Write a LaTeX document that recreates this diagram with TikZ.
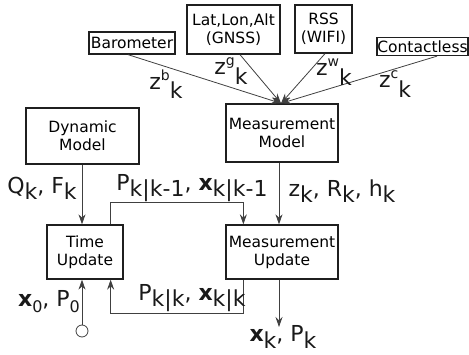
\documentclass[tikz,border=0pt]{standalone}
\usepackage{fontspec}
\setmainfont{DejaVu Sans}
\usetikzlibrary{arrows.meta}
\newcommand{\dn}[1]{\raisebox{-0.28em}{#1}}
\newcommand{\dnn}[1]{\raisebox{-0.42em}{#1}}
\newcommand{\sps}[1]{\raisebox{0.42em}{\fontsize{14}{14}\selectfont #1}}
\begin{document}
\begin{tikzpicture}[x=1pt,y=-1pt,
  box/.style={draw=black!88, line width=1.3pt, align=center, font=\fontsize{15.5}{18}\selectfont, inner sep=0pt},
  lbl/.style={font=\fontsize{22}{24}\selectfont, inner sep=0pt, text=black!90},
  conn/.style={draw=black!75, line width=0.8pt},
  arr/.style={conn, -{Stealth[length=10pt,width=7pt]}}]
\useasboundingbox (0,0) rectangle (469,355);
% sensor boxes
\node[box, minimum width=86pt, minimum height=22pt] (baro) at (132,43) {Barometer};
\node[box, minimum width=93pt, minimum height=49pt] (gnss) at (233.5,29.5) {Lat,Lon,Alt\\(GNSS)};
\node[box, minimum width=57pt, minimum height=48pt] (rss) at (323.5,29) {RSS\\(WIFI)};
\node[box, minimum width=91pt, minimum height=18pt] (cont) at (422.5,46.5) {Contactless};
% main boxes
\node[box, minimum width=112pt, minimum height=58pt] (mm) at (282,133) {Measurement\\Model};
\node[box, minimum width=113pt, minimum height=56pt] (dm) at (82.5,136) {Dynamic\\Model};
\node[box, minimum width=76pt, minimum height=54pt] (tu) at (85,252) {Time\\Update};
\node[box, minimum width=112pt, minimum height=54pt] (mu) at (282,252) {Measurement\\Update};
% sensor connectors
\coordinate (conv) at ([xshift=-1pt]mm.north);
\draw[arr] ([xshift=-4pt]baro.south) -- (conv);
\draw[arr] ([xshift=6.5pt]gnss.south) -- (conv);
\draw[arr] ([xshift=1.5pt]rss.south) -- (conv);
\draw[arr] ([xshift=14.5pt]cont.south) -- (conv);
\node[lbl] (zb) at (166,84) {z\sps{b}\dnn{k}};
\node[lbl] (zg) at (231,71) {z\sps{g}\dnn{k}};
\node[lbl] (zw) at (334,72) {z\sps{w}\dnn{k}};
\node[lbl] (zc) at (395,84) {z\sps{c}\dnn{k}};
% dynamic model to time update
\draw[arr] ([xshift=-0.5pt]dm.south) -- ([xshift=-3pt]tu.north);
\node[lbl] (qf) at (42,188) {Q\dn{k}, F\dn{k}};
% time update to measurement update
\coordinate (c1) at ([xshift=-13pt]tu.north east |- 0,202);
\coordinate (c2) at ([xshift=18pt]mu.north west |- 0,202);
\draw[arr] ([xshift=-13pt]tu.north east) -- (c1) -- (c2) -- ([xshift=18pt]mu.north west);
\node[lbl] (pkk1) at (192,188) {P\dn{k|k-1}, \textbf{x}\dn{k|k-1}};
% measurement model to measurement update
\draw[arr] ([xshift=-3pt]mm.south) -- ([xshift=-3pt]mu.north);
\node[lbl] (zrh) at (342,191) {z\dn{k}, R\dn{k}, h\dn{k}};
% feedback
\coordinate (c3) at ([xshift=18pt]mu.south west |- 0,313);
\coordinate (c4) at ([xshift=-13pt]tu.south east |- 0,313);
\draw[arr] ([xshift=18pt]mu.south west) -- (c3) -- (c4) -- ([xshift=-13pt]tu.south east);
\node[lbl] (pkk) at (192,298) {P\dn{k|k}, \textbf{x}\dn{k|k}};
% initial
\node[circle, draw=black!75, line width=0.8pt, minimum size=12pt, inner sep=0pt] (init) at (82,331) {};
\draw[arr] (init) -- ([xshift=-3pt]tu.south);
\node[lbl] (x0) at (49,302) {\textbf{x}\dn{\fontsize{16}{16}\selectfont 0}, P\dn{\fontsize{16}{16}\selectfont 0}};
% output
\coordinate (out) at ([xshift=-3pt]mu.south |- 0,327);
\draw[arr] ([xshift=-3pt]mu.south) -- (out);
\node[lbl] (xp) at (283,337) {\textbf{x}\dn{k}, P\dn{k}};
\end{tikzpicture}
\end{document}
